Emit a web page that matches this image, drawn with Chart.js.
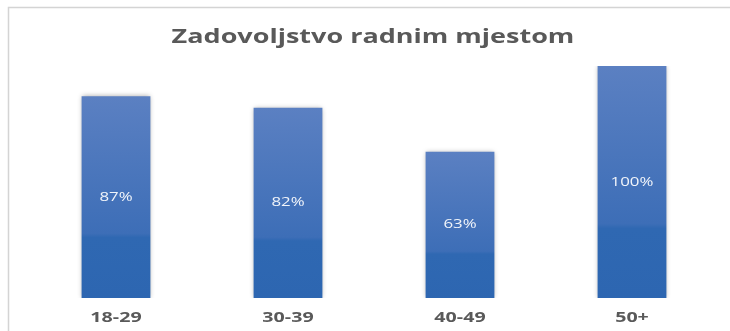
<!DOCTYPE html>
<html>
<head>
<meta charset="utf-8">
<script src="https://cdn.jsdelivr.net/npm/chart.js@4"></script>
<style>
  html, body { margin: 0; padding: 0; background: #ffffff; }
  #wrap { width: 730px; height: 331px; position: relative; }
</style>
</head>
<body>
<div id="wrap"><canvas id="c" width="730" height="331"></canvas></div>
<script>
// Satisfaction with the workplace, by age group
const categories = ['18-29', '30-39', '40-49', '50+'];
const satisfaction = [87, 82, 63, 100];
const chartTitle = 'Zadovoljstvo radnim mjestom';

const TEXT_GREY = '#595959';
const FONT = '"Open Sans", sans-serif';
const STRETCH = 1.33; // wide lettering used throughout the chart

// Per-bar vertical gradient (lighter at the top, darker lower down)
function barFill(context) {
  const chart = context.chart;
  const y = chart.scales && chart.scales.y;
  if (!chart.chartArea || !y || context.parsed === undefined) return '#3a6cb5';
  const top = y.getPixelForValue(context.parsed.y);
  const base = y.getPixelForValue(0);
  if (!isFinite(top) || !isFinite(base) || base === top) return '#3a6cb5';
  const g = chart.ctx.createLinearGradient(0, top, 0, base);
  g.addColorStop(0, '#5b80c2');
  g.addColorStop(0.68, '#3d6eb7');
  g.addColorStop(0.70, '#2f68b2');
  g.addColorStop(1, '#2d66b1');
  return g;
}

function wideText(ctx, text, x, y, font, color, stretch) {
  ctx.save();
  ctx.translate(x, y);
  ctx.scale(stretch, 1);
  ctx.font = font;
  ctx.fillStyle = color;
  ctx.textAlign = 'center';
  ctx.textBaseline = 'middle';
  ctx.fillText(text, 0, 0);
  ctx.restore();
}

// Frame, title, category labels, shadows and value labels
const decor = {
  id: 'decor',
  beforeDraw(chart) {
    const ctx = chart.ctx;
    ctx.save();
    ctx.strokeStyle = '#d4d4d4';
    ctx.lineWidth = 1.5;
    ctx.strokeRect(8.5, 7.5, 900, 500);
    ctx.restore();
    wideText(ctx, chartTitle, 373, 37, 'bold 20px ' + FONT, TEXT_GREY, 1.35);
  },
  beforeDatasetsDraw(chart) {
    const ctx = chart.ctx;
    ctx.save();
    ctx.shadowColor = 'rgba(0,0,0,0.35)';
    ctx.shadowBlur = 5;
    ctx.shadowOffsetX = 0;
    ctx.shadowOffsetY = 0;
  },
  afterDatasetsDraw(chart) {
    const ctx = chart.ctx;
    ctx.restore();
    const meta = chart.getDatasetMeta(0);
    const xs = chart.scales.x;
    meta.data.forEach((bar, i) => {
      const mid = (bar.y + bar.base) / 2;
      wideText(ctx, satisfaction[i] + '%', bar.x, mid, '12.5px ' + FONT, 'rgba(255,255,255,0.92)', 1.35);
    });
    categories.forEach((c, i) => {
      wideText(ctx, c, xs.getPixelForTick(i), chart.chartArea.bottom + 20, 'bold 15px ' + FONT, TEXT_GREY, 1.31);
    });
  }
};

new Chart(document.getElementById('c'), {
  type: 'bar',
  data: {
    labels: categories,
    datasets: [{
      data: satisfaction,
      backgroundColor: barFill,
      borderWidth: 0,
      barPercentage: 0.4,
      categoryPercentage: 1
    }]
  },
  options: {
    responsive: false,
    animation: false,
    devicePixelRatio: 1,
    layout: { padding: { left: 30, right: 12, top: 66, bottom: 33 } },
    plugins: {
      legend: { display: false },
      tooltip: { enabled: false },
      title: { display: false }
    },
    scales: {
      x: {
        display: false
      },
      y: {
        display: false,
        min: 0,
        max: 100
      }
    }
  },
  plugins: [decor]
});
</script>
</body>
</html>
